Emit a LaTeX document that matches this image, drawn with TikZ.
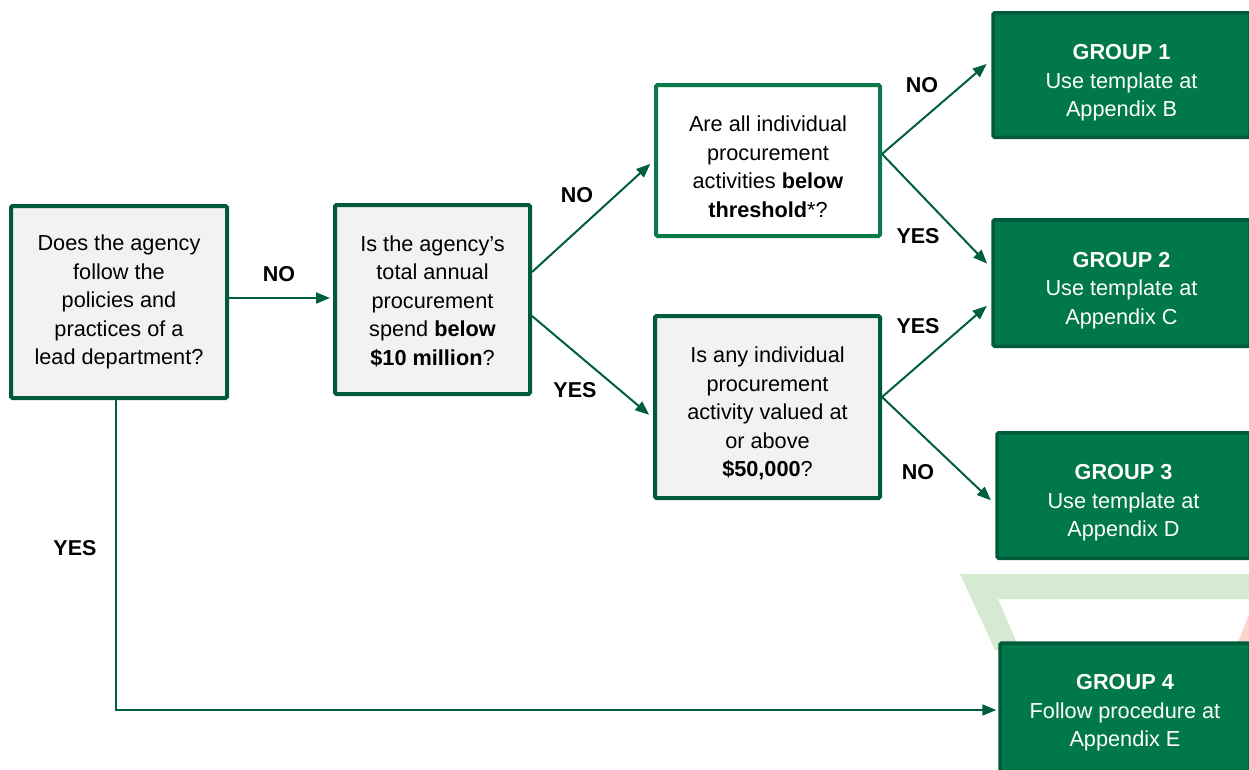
\documentclass[tikz,border=0pt]{standalone}
\usepackage{fontspec}
\setmainfont{Liberation Sans}
\usetikzlibrary{arrows.meta}
\definecolor{dkgreen}{HTML}{005A3C}
\definecolor{midgreen}{HTML}{0B7A4B}
\definecolor{boxgray}{HTML}{F2F2F2}
\definecolor{gfill}{HTML}{00784A}
\definecolor{gborder}{HTML}{005A3C}
\definecolor{arrgreen}{HTML}{005E40}
\definecolor{bandgreen}{HTML}{D6E9D1}
\definecolor{bandpink}{HTML}{FCD6CB}
\newcommand\mytopgap[1]{\rule{0pt}{#1}}
\tikzset{
  qbox/.style={draw=dkgreen, line width=4pt, fill=boxgray, rounded corners=1.5pt,
    align=center, inner sep=0pt, font=\fontsize{21.7}{28.5}\selectfont},
  gbox/.style={draw=gborder, line width=3.5pt, fill=gfill, rounded corners=1.5pt,
    align=center, inner sep=0pt, text=white, font=\fontsize{21.7}{28.5}\selectfont},
  arr/.style={draw=arrgreen, line width=2pt, -{Triangle[length=14pt,width=11pt]}},
  lbl/.style={font=\fontsize{21.5}{24}\selectfont\bfseries, inner sep=0pt}
}
\begin{document}
\begin{tikzpicture}[x=1pt,y=-1pt]
\useasboundingbox (0,0) rectangle (1249,769);
% background decoration
\fill[bandgreen] (960,574) -- (1252,574) -- (1252,599) -- (998,599) -- (1020,650) -- (995,650) -- cycle;
\fill[bandpink] (1238,642) -- (1250,612) -- (1250,642) -- cycle;

% question boxes
\node[qbox, minimum width=216pt, minimum height=192pt] (A) at (119,302)
  {Does the agency\\follow the\\policies and\\practices of a\\lead department?};
\node[qbox, minimum width=195pt, minimum height=189pt] (B) at (432.5,299.5)
  {\mytopgap{19.5pt}Is the agency’s\\total annual\\procurement\\spend \textbf{below}\\\textbf{\$10 million}?};
\node[qbox, draw=midgreen, fill=white, minimum width=224pt, minimum height=151pt] (C) at (768,160.5)
  {\mytopgap{28pt}Are all individual\\procurement\\activities \textbf{below}\\\textbf{threshold}*?};
\node[qbox, minimum width=225pt, minimum height=182pt] (D) at (767.5,407)
  {\mytopgap{29pt}Is any individual\\procurement\\activity valued at\\or above\\\textbf{\$50,000}?};

% group boxes
\node[gbox, minimum width=257pt, minimum height=124.5pt] (G1) at (1121.5,75)
  {\mytopgap{30.5pt}\textbf{GROUP 1}\\Use template at\\Appendix B};
\node[gbox, minimum width=257pt, minimum height=126.5pt] (G2) at (1121.5,283)
  {\mytopgap{29.5pt}\textbf{GROUP 2}\\Use template at\\Appendix C};
\node[gbox, minimum width=253pt, minimum height=125.5pt] (G3) at (1123.5,495.5)
  {\mytopgap{29.5pt}\textbf{GROUP 3}\\Use template at\\Appendix D};
\node[gbox, minimum width=250pt, minimum height=140pt] (G4) at (1125,713)
  {\textbf{GROUP 4}\\Follow procedure at\\Appendix E};

% connectors
\draw[arr, shorten >=3pt] ([yshift=4pt]A.east) -- ([yshift=4pt]A.east -| B.west);
\draw[arr, shorten >=5pt] ([yshift=27.5pt]B.east) -- (C.west);
\draw[arr, shorten >=5pt] ([yshift=-16.5pt]B.east) -- ([yshift=-11pt]D.west);
\draw[arr, shorten >=6pt] ([yshift=6.5pt]C.east) -- ([yshift=15pt]G1.west);
\draw[arr, shorten >=6pt] ([yshift=6.5pt]C.east) -- ([yshift=15pt]G2.west);
\draw[arr, shorten >=6pt] ([yshift=10pt]D.east) -- ([yshift=-19pt]G2.west);
\draw[arr, shorten >=6pt] ([yshift=10pt]D.east) -- ([yshift=-9pt]G3.west);
\draw[arr, shorten >=2pt] ([xshift=-3pt]A.south) |- ([yshift=3pt]G4.west);

% labels
\node[lbl] (l1) at (279,274) {NO};
\node[lbl] (l2) at (577,195) {NO};
\node[lbl] (l3) at (575,390) {YES};
\node[lbl] (l4) at (922,85) {NO};
\node[lbl] (l5) at (918,236) {YES};
\node[lbl] (l6) at (918,326) {YES};
\node[lbl] (l7) at (918,472) {NO};
\node[lbl] (l8) at (75,548) {YES};
\end{tikzpicture}
\end{document}
